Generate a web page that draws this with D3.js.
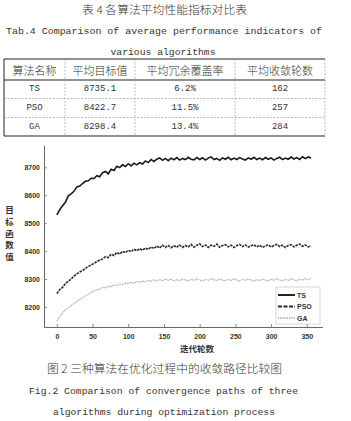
<!DOCTYPE html>
<html>
<head>
<meta charset="utf-8">
<script src="https://cdn.jsdelivr.net/npm/d3@7"></script>
<style>
  body { margin: 0; background: #fff; }
  svg { display: block; }
</style>
</head>
<body>
<svg id="fig"></svg>
<script>
// table data
let tableHead = ["算法名称", "平均目标值", "平均冗余覆盖率", "平均收敛轮数"]
let algoNames = ["TS", "PSO", "GA"]
let avgObjective = ["8735.1", "8422.7", "8298.4"]
let avgRedundancy = ["6.2%", "11.5%", "13.4%"]
let avgRounds = ["162", "257", "284"]

// convergence curves, one value every 4 iterations
let iterations = d3.range(0, 360, 4)
let tsValues = [8530, 8548, 8562, 8575, 8598, 8605, 8614, 8630, 8633, 8642, 8650, 8652, 8661, 8660, 8670, 8666,
    8681, 8685, 8677, 8693, 8689, 8704, 8699, 8709, 8703, 8713, 8705, 8715, 8709, 8717, 8712, 8723, 8717, 8728,
    8721, 8729, 8734, 8725, 8732, 8724, 8733, 8727, 8735, 8726, 8732, 8728, 8736, 8729, 8727, 8735, 8728, 8734,
    8726, 8733, 8737, 8728, 8732, 8725, 8734, 8729, 8736, 8727, 8733, 8728, 8735, 8730, 8726, 8734, 8729, 8736,
    8728, 8733, 8727, 8735, 8729, 8734, 8726, 8732, 8736, 8728, 8733, 8729, 8737, 8730, 8735, 8728, 8738, 8731,
    8737, 8733]
let psoValues = [8248, 8262, 8270, 8284, 8292, 8300, 8310, 8318, 8325, 8330, 8338, 8345, 8350, 8356, 8362, 8368,
    8372, 8380, 8377, 8389, 8384, 8395, 8389, 8399, 8394, 8403, 8398, 8407, 8401, 8409, 8403, 8411, 8406, 8415,
    8409, 8418, 8411, 8421, 8413, 8420, 8412, 8419, 8414, 8422, 8413, 8420, 8415, 8424, 8414, 8421, 8426, 8416,
    8422, 8413, 8421, 8417, 8425, 8414, 8420, 8423, 8415, 8421, 8413, 8420, 8424, 8416, 8422, 8414, 8419, 8423,
    8415, 8421, 8413, 8419, 8422, 8414, 8420, 8424, 8416, 8421, 8413, 8420, 8423, 8415, 8421, 8425, 8417, 8422,
    8415, 8419]
let gaValues = [8150, 8165, 8178, 8190, 8196, 8205, 8212, 8220, 8226, 8232, 8240, 8246, 8252, 8256, 8262, 8264,
    8270, 8268, 8274, 8272, 8279, 8276, 8283, 8280, 8286, 8283, 8289, 8285, 8291, 8288, 8293, 8290, 8295, 8291,
    8297, 8293, 8298, 8294, 8300, 8295, 8299, 8293, 8298, 8294, 8300, 8296, 8292, 8299, 8295, 8301, 8296, 8293,
    8299, 8295, 8302, 8297, 8294, 8300, 8296, 8293, 8299, 8295, 8301, 8296, 8293, 8299, 8295, 8300, 8296, 8292,
    8298, 8294, 8300, 8296, 8293, 8299, 8295, 8301, 8296, 8294, 8299, 8295, 8301, 8297, 8293, 8299, 8296, 8302,
    8297, 8303]
let seriesNames = ["TS", "PSO", "GA"]
let xTicks = [0, 50, 100, 150, 200, 250, 300, 350]
let yTicks = [8200, 8300, 8400, 8500, 8600, 8700]

let cjk = "'Noto Sans CJK SC', sans-serif"
let mono = "'Liberation Mono', 'DejaVu Sans Mono', monospace"
let sans = "'Liberation Sans', Arial, sans-serif"

let svg = d3.select("#fig").attr("width", 351).attr("height", 421)
svg.append("rect").attr("width", 351).attr("height", 421).attr("fill", "#fff")

// captions of the table
function caption(txt, x, y, font, size, len, weight) {
    let t = svg.append("text").attr("x", x).attr("y", y).text(txt)
        .attr("text-anchor", "middle").attr("dominant-baseline", "central")
        .style("font-family", font).style("font-size", size + "px").attr("fill", "#333")
        .style("font-weight", weight || 400)
    if (len) t.attr("textLength", len).attr("lengthAdjust", "spacingAndGlyphs")
    return t
}
caption("表 4 各算法平均性能指标对比表", 164.5, 9, cjk, 11, 165, 300)
caption("Tab.4 Comparison of average performance indicators of", 164, 31, mono, 9.8, 316)
caption("various algorithms", 163, 52, mono, 9.8, 105)

// table
let colEdges = [4, 65, 135, 235, 325]
let rowEdges = [59, 80, 98.5, 117.5, 136]
let tbl = svg.append("g")
tbl.append("line").attr("x1", colEdges[0]).attr("x2", colEdges[4]).attr("y1", rowEdges[0]).attr("y2", rowEdges[0])
    .attr("stroke", "#222").attr("stroke-width", 1)
tbl.append("line").attr("x1", colEdges[0]).attr("x2", colEdges[4]).attr("y1", rowEdges[1]).attr("y2", rowEdges[1])
    .attr("stroke", "#222").attr("stroke-width", 1)
tbl.append("line").attr("x1", colEdges[0]).attr("x2", colEdges[4]).attr("y1", rowEdges[4]).attr("y2", rowEdges[4])
    .attr("stroke", "#222").attr("stroke-width", 1)
for (let r = 2; r < 4; r++) {
    tbl.append("line").attr("x1", colEdges[0]).attr("x2", colEdges[4]).attr("y1", rowEdges[r]).attr("y2", rowEdges[r])
        .attr("stroke", "#aaa").attr("stroke-width", 0.8).attr("stroke-dasharray", "2,1.5")
}
tbl.append("line").attr("x1", colEdges[0]).attr("x2", colEdges[0]).attr("y1", rowEdges[0]).attr("y2", rowEdges[4])
    .attr("stroke", "#222").attr("stroke-width", 1)
for (let c = 1; c < 5; c++) {
    tbl.append("line").attr("x1", colEdges[c]).attr("x2", colEdges[c]).attr("y1", rowEdges[0]).attr("y2", rowEdges[4])
        .attr("stroke", "#aaa").attr("stroke-width", 0.8).attr("stroke-dasharray", "2,1.5")
}
let colMid = c => (colEdges[c] + colEdges[c + 1]) / 2
tableHead.forEach(function (h, c) {
    tbl.append("text").attr("x", colMid(c)).attr("y", 70).text(h)
        .attr("text-anchor", "middle").attr("dominant-baseline", "central")
        .style("font-family", cjk).style("font-size", "11px").style("font-weight", 300).attr("fill", "#333")
})
let rows = algoNames.map((a, i) => [a, avgObjective[i], avgRedundancy[i], avgRounds[i]])
rows.forEach(function (row, r) {
    row.forEach(function (v, c) {
        tbl.append("text").attr("x", colMid(c)).attr("y", (rowEdges[r + 1] + rowEdges[r + 2]) / 2).text(v)
            .attr("text-anchor", "middle").attr("dominant-baseline", "central")
            .style("font-family", mono).style("font-size", "9px").attr("fill", "#333")
    })
})

// chart
let x = d3.scaleLinear().domain([-18, 372]).range([44, 322.5])
let y = d3.scaleLinear().domain([8128, 8780]).range([327, 145])

let xAxis = d3.axisBottom(x).tickValues(xTicks).tickSizeInner(-3).tickSizeOuter(0).tickPadding(7)
let gx = svg.append("g").attr("transform", "translate(0,327)").call(xAxis)
let yAxis = d3.axisLeft(y).tickValues(yTicks).tickFormat(d3.format("d"))
    .tickSizeInner(-3).tickSizeOuter(0).tickPadding(4)
let gy = svg.append("g").attr("transform", "translate(44,0)").call(yAxis)
for (let g of [gx, gy]) {
    g.select(".domain").attr("stroke", "#666").attr("stroke-width", 1)
    g.selectAll(".tick line").attr("stroke", "#888")
    g.selectAll(".tick text").style("font-family", sans).style("font-size", "7px")
        .style("font-weight", "bold").attr("fill", "#333")
}

let curves = [tsValues, psoValues, gaValues]
let styles = [
    {stroke: "#1a1a1a", width: 1.6, dash: null},
    {stroke: "#2a2a2a", width: 1.6, dash: "2.5,1"},
    {stroke: "#9a9a9a", width: 1.1, dash: "1,0.8"}
]
let line = d3.line().x((d, i) => x(iterations[i])).y(d => y(d))
curves.forEach(function (vals, i) {
    svg.append("path").datum(vals)
        .attr("fill", "none")
        .attr("stroke", styles[i].stroke)
        .attr("stroke-width", styles[i].width)
        .attr("stroke-dasharray", styles[i].dash)
        .attr("d", line)
})

// axis titles
svg.append("text").attr("x", 197).attr("y", 348).text("迭代轮数")
    .attr("text-anchor", "middle").attr("dominant-baseline", "central")
    .style("font-family", cjk).style("font-size", "8.5px").style("font-weight", "bold").attr("fill", "#333")
Array.from("目标函数值").forEach(function (ch, i) {
    svg.append("text").attr("x", 9.5).attr("y", 209 + i * 11.8).text(ch)
        .attr("text-anchor", "middle").attr("dominant-baseline", "central")
        .style("font-family", cjk).style("font-size", "8.5px").style("font-weight", "bold").attr("fill", "#333")
})

// legend
let leg = svg.append("g")
leg.append("rect").attr("x", 276).attr("y", 287).attr("width", 44).attr("height", 37)
    .attr("fill", "#fff").attr("stroke", "#ccc").attr("stroke-width", 0.8)
seriesNames.forEach(function (n, i) {
    let ly = 295 + i * 11.5
    leg.append("line").attr("x1", 278).attr("x2", 295).attr("y1", ly).attr("y2", ly)
        .attr("stroke", styles[i].stroke).attr("stroke-width", styles[i].width + 0.3)
        .attr("stroke-dasharray", i == 1 ? "4,1.5" : i == 2 ? "1.2,1" : null)
    leg.append("text").attr("x", 297).attr("y", ly).text(n)
        .attr("dominant-baseline", "central")
        .style("font-family", sans).style("font-size", "7px").style("font-weight", "bold").attr("fill", "#333")
})

// figure captions
caption("图 2 三种算法在优化过程中的收敛路径比较图", 164.5, 368, cjk, 11.5, 235, 300)
caption("Fig.2 Comparison of convergence paths of three", 163.5, 391, mono, 9.8, 269)
caption("algorithms during optimization process", 164, 412, mono, 9.8, 222)
</script>
</body>
</html>
